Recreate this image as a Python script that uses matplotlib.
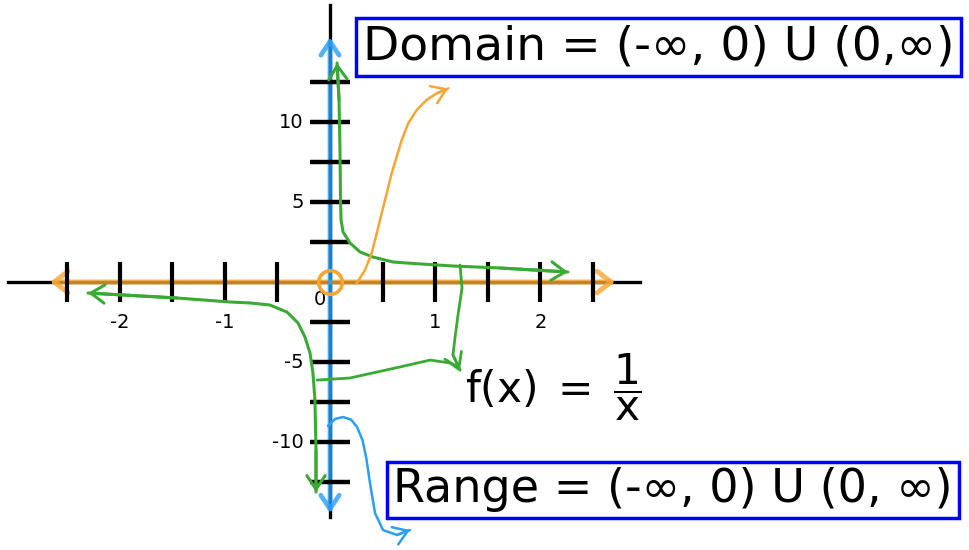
import matplotlib
matplotlib.use("Agg")
import matplotlib.pyplot as plt

# axis ticks (x every 0.5, y every 2.5) and labelled values
x_ticks = [-2.5, -2.0, -1.5, -1.0, -0.5, 0.5, 1.0, 1.5, 2.0, 2.5]
y_ticks = [-12.5, -10.0, -7.5, -5.0, -2.5, 2.5, 5.0, 7.5, 10.0, 12.5]
x_labels = [-2, -1, 1, 2]
y_labels = [-10, -5, 5, 10]

# hand-drawn branches of f(x) = 1/x
right_x = [0.067, 0.086, 0.095, 0.10, 0.105, 0.124, 0.19, 0.285, 0.409, 0.599, 0.856, 1.169, 1.616, 2.262]
right_y = [13.69, 11.38, 8.25, 5.13, 3.88, 3.13, 2.44, 1.88, 1.56, 1.25, 1.13, 1.0, 0.875, 0.625]
left_x = [-2.30, -1.454, -0.951, -0.760, -0.570, -0.409, -0.304, -0.238, -0.190, -0.162, -0.143, -0.133, -0.133]
left_y = [-0.69, -1.0, -1.25, -1.31, -1.44, -1.88, -2.56, -3.44, -4.44, -5.69, -7.38, -10.5, -13.13]

# pointer curves towards the labels
dom_x = [0.254, 0.333, 0.396, 0.444, 0.491, 0.539, 0.586, 0.634, 0.682, 0.744, 0.824, 0.919, 1.014, 1.125]
dom_y = [-0.08, 0.75, 1.79, 3.04, 4.29, 5.54, 6.79, 7.83, 8.88, 9.92, 10.75, 11.38, 11.79, 12.10]
rng_x = [-0.019, 0.05, 0.124, 0.20, 0.257, 0.310, 0.345, 0.380, 0.428, 0.504, 0.637, 0.760]
rng_y = [-9.0, -8.55, -8.44, -8.6, -9.06, -9.9, -11.0, -12.56, -14.44, -15.5, -15.81, -15.5]
fl_x = [-0.124, 0.19, 0.665, 0.951, 1.141, 1.236]
fl_y = [-6.13, -6.0, -5.31, -4.88, -5.06, -5.5]
fr_x = [1.236, 1.255, 1.217, 1.188, 1.169, 1.236]
fr_y = [1.06, -0.38, -2.06, -3.5, -4.56, -5.5]

GREEN = "#3aaa35"
ORANGE = "#f7a532"
BLUE = "#2b9ef5"
BOX = "#0000ff"

plt.rcParams["font.family"] = ["DejaVu Sans"]
plt.rcParams["mathtext.fontset"] = "dejavusans"

fig = plt.figure(figsize=(9.7, 5.5), dpi=100)
ax = fig.add_axes([0, 0, 1, 1])
ax.set_xlim(-3.137, 6.084)
ax.set_ylim(-16.75, 17.625)
ax.axis("off")


def arrow_tip(tip, tail, color, lw=2.2, style="->,head_length=0.45,head_width=0.3"):
    ax.annotate("", xy=tip, xytext=tail,
                arrowprops=dict(arrowstyle=style, color=color, lw=lw,
                                shrinkA=0, shrinkB=0, mutation_scale=22))


def curve(xs, ys, color, lw, start_arrow=False, end_arrow=True):
    ax.plot(xs, ys, color=color, lw=lw, zorder=4, solid_joinstyle="round", solid_capstyle="round")
    if end_arrow:
        arrow_tip((xs[-1], ys[-1]), (xs[-2], ys[-2]), color, lw)
    if start_arrow:
        arrow_tip((xs[0], ys[0]), (xs[1], ys[1]), color, lw)


# black axes
ax.plot([-3.06, 2.95], [0, 0], color="black", lw=2.4, zorder=1)
ax.plot([0, 0], [-14.7, 17.3], color="black", lw=2.4, zorder=1)

# coloured overlays on the axes
ax.annotate("", xy=(2.71, 0), xytext=(-2.66, 0),
            arrowprops=dict(arrowstyle="<->,head_length=0.45,head_width=0.35", color=ORANGE,
                            lw=3.6, shrinkA=0, shrinkB=0, mutation_scale=22, alpha=0.8), zorder=2)
ax.annotate("", xy=(0, 15.3), xytext=(0, -14.45),
            arrowprops=dict(arrowstyle="<->,head_length=0.45,head_width=0.3", color=BLUE,
                            lw=3.4, shrinkA=0, shrinkB=0, mutation_scale=22, alpha=0.8), zorder=2)

# tick marks
for t in x_ticks:
    ax.plot([t, t], [-1.25, 1.25], color="black", lw=3, solid_capstyle="butt", zorder=3)
for t in y_ticks:
    ax.plot([-0.19, 0.19], [t, t], color="black", lw=3.2, solid_capstyle="butt", zorder=3)

for v in x_labels:
    ax.text(v, -2.55, f"{v}", ha="center", va="center", fontsize=14)
for v in y_labels:
    ax.text(-0.25, v, f"{v}", ha="right", va="center", fontsize=14)
ax.text(-0.1, -1.1, "0", ha="center", va="center", fontsize=14)

# graph of 1/x
curve(right_x, right_y, GREEN, 2.2, start_arrow=True)
curve(left_x, left_y, GREEN, 2.2, start_arrow=True)

# open circle at the origin
ax.plot([0], [0], marker="o", markersize=17, markerfacecolor="none",
        markeredgecolor=ORANGE, markeredgewidth=2.6, zorder=5)

# pointers
curve(dom_x, dom_y, ORANGE, 1.8)
curve(rng_x, rng_y, BLUE, 1.8)
curve(fl_x, fl_y, GREEN, 2.0, end_arrow=False)
curve(fr_x, fr_y, GREEN, 2.0)

# labels
ax.text(0.31, 14.69, "Domain = (-\u221e, 0) U (0,\u221e)", ha="left", va="center", fontsize=34,
        bbox=dict(boxstyle="square,pad=0.14", fc="white", ec=BOX, lw=2.5), zorder=6)
ax.text(0.60, -13.0, "Range = (-\u221e, 0) U (0, \u221e)", ha="left", va="center", fontsize=33.2,
        bbox=dict(boxstyle="square,pad=0.13", fc="white", ec=BOX, lw=2.5), zorder=6)
ax.text(1.28, -6.6, r"$\mathrm{f(x)}\;=\;\mathrm{\dfrac{1}{x}}$", ha="left", va="center", fontsize=30.5)

fig.savefig("out.png", dpi=100)
